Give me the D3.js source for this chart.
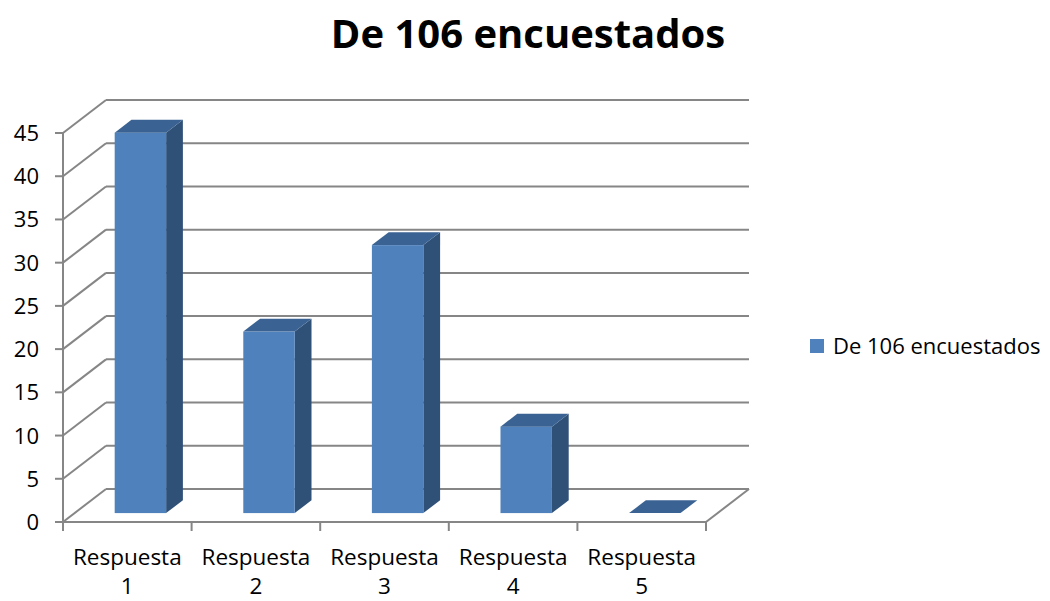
<!DOCTYPE html>
<html>
<head>
<meta charset="utf-8">
<script src="https://cdn.jsdelivr.net/npm/d3@7"></script>
<style>
  body { margin: 0; background: #fff; }
  text { font-family: "Open Sans", sans-serif; fill: #000; }
</style>
</head>
<body>
<div id="chart"></div>
<script>
var categories = ["Respuesta 1", "Respuesta 2", "Respuesta 3", "Respuesta 4", "Respuesta 5"];
var values = [44, 21, 31, 10, 0];
var yTicks = [0, 5, 10, 15, 20, 25, 30, 35, 40, 45];
var seriesName = "De 106 encuestados";

var W = 1050, H = 601;
var svg = d3.select('#chart').append('svg')
  .attr('width', W).attr('height', H);

// front plane scales + depth offset for the fake 3d
var x = d3.scaleBand().domain(categories).range([63, 706]);
var y = d3.scaleLinear().domain([0, 45]).range([522, 133]);
var dx = 43, dy = -33;
var zf = 0.27, zb = 0.66;   // bar front/back depth as fraction
var grid = '#868686';

// back wall gridlines
svg.selectAll('.grid').data(yTicks).enter().append('line')
  .attr('x1', x.range()[0] + dx).attr('x2', x.range()[1] + dx)
  .attr('y1', function(d) { return y(d) + dy; })
  .attr('y2', function(d) { return y(d) + dy; })
  .attr('stroke', grid).attr('stroke-width', 2);

// side wall diagonals
svg.selectAll('.diag').data(yTicks).enter().append('line')
  .attr('x1', x.range()[0]).attr('x2', x.range()[0] + dx)
  .attr('y1', function(d) { return y(d); })
  .attr('y2', function(d) { return y(d) + dy; })
  .attr('stroke', grid).attr('stroke-width', 2);

// floor right edge
svg.append('line')
  .attr('x1', x.range()[1]).attr('y1', y(0))
  .attr('x2', x.range()[1] + dx).attr('y2', y(0) + dy)
  .attr('stroke', grid).attr('stroke-width', 2);

// front axes
svg.append('line')
  .attr('x1', x.range()[0]).attr('x2', x.range()[0])
  .attr('y1', y(45)).attr('y2', y(0))
  .attr('stroke', grid).attr('stroke-width', 2);
svg.append('line')
  .attr('x1', x.range()[0]).attr('x2', x.range()[1])
  .attr('y1', y(0)).attr('y2', y(0))
  .attr('stroke', grid).attr('stroke-width', 2);

svg.selectAll('.ytick').data(yTicks).enter().append('line')
  .attr('x1', x.range()[0] - 8).attr('x2', x.range()[0])
  .attr('y1', function(d) { return y(d); })
  .attr('y2', function(d) { return y(d); })
  .attr('stroke', grid).attr('stroke-width', 2);

var bounds = categories.map(function(c) { return x(c); }).concat([x.range()[1]]);
svg.selectAll('.xtick').data(bounds).enter().append('line')
  .attr('x1', function(d) { return d; }).attr('x2', function(d) { return d; })
  .attr('y1', y(0)).attr('y2', y(0) + 9)
  .attr('stroke', grid).attr('stroke-width', 2);

// y labels
svg.selectAll('.ylab').data(yTicks).enter().append('text')
  .attr('x', 39).attr('y', function(d) { return y(d) + 8; })
  .attr('text-anchor', 'end').style('font-size', '22px')
  .text(function(d) { return d; });

// x labels, two lines
var xl = svg.selectAll('.xlab').data(categories).enter().append('text')
  .attr('text-anchor', 'middle').style('font-size', '22.5px')
  .attr('transform', function(d) { return 'translate(' + (x(d) + x.bandwidth() / 2) + ',0)'; });
xl.append('tspan').attr('x', 0).attr('y', 565).text(function(d) { return d.split(' ')[0]; });
xl.append('tspan').attr('x', 0).attr('y', 594).text(function(d) { return d.split(' ')[1]; });

// bars
var bw = x.bandwidth() * 0.4;
var bars = svg.selectAll('.bar').data(values).enter().append('g');
function pts(a) { return a.map(function(p) { return p.join(','); }).join(' '); }
bars.each(function(v, i) {
  var g = d3.select(this);
  var x0 = x(categories[i]) + (x.bandwidth() - bw) / 2 + 1.5;
  var x1 = x0 + bw;
  var fx = dx * zf, fy = dy * zf, bx = dx * zb, by = dy * zb;
  var yt = y(v), yb = y(0);
  if (v > 0) {
    g.append('polygon').attr('fill', '#2f5178')
      .attr('points', pts([[x1 + fx, yt + fy], [x1 + bx, yt + by], [x1 + bx, yb + by], [x1 + fx, yb + fy]]));
    g.append('rect').attr('fill', '#4f81bd')
      .attr('x', x0 + fx).attr('y', yt + fy).attr('width', bw).attr('height', yb - yt);
  }
  g.append('polygon').attr('fill', '#3a6393')
    .attr('points', pts([[x0 + fx, yt + fy], [x1 + fx, yt + fy], [x1 + bx, yt + by], [x0 + bx, yt + by]]));
});

// title
svg.append('text').attr('x', 528).attr('y', 48).attr('text-anchor', 'middle')
  .style('font-size', '40px').style('font-weight', 'bold').text(seriesName);

// legend
svg.append('rect').attr('x', 810).attr('y', 339).attr('width', 14).attr('height', 14).attr('fill', '#4f81bd');
svg.append('text').attr('x', 833).attr('y', 354).style('font-size', '22px').text(seriesName);
</script>
</body>
</html>
